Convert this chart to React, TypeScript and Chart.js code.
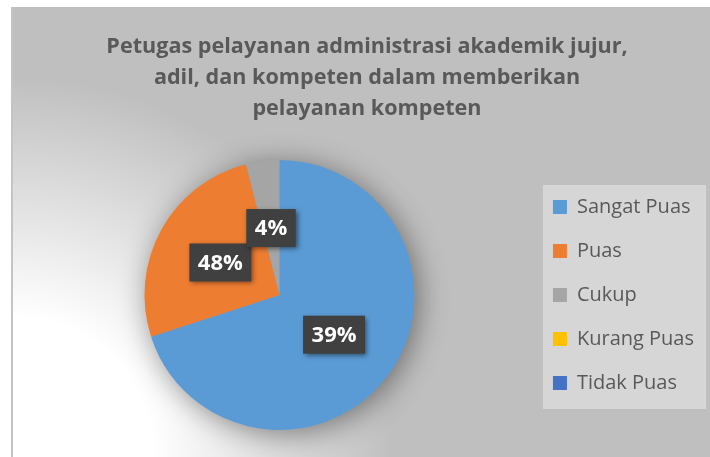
import React, { useEffect, useRef } from 'react';
import { Chart, registerables } from 'chart.js';

Chart.register(...registerables);

// ---- data ----
const titleLines = [
  'Petugas pelayanan administrasi akademik jujur,',
  'adil, dan kompeten dalam memberikan',
  'pelayanan kompeten',
];
const categories = ['Sangat Puas', 'Puas', 'Cukup', 'Kurang Puas', 'Tidak Puas'];
const sliceValues = [70, 26, 4, 0, 0];
const sliceLabels = ['39%', '48%', '4%', '', ''];

// ---- styles ----
const sliceColors = ['#5b9bd5', '#ed7d31', '#a5a5a5', '#ffc000', '#4472c4'];
const FONT = "'Open Sans', 'Noto Sans', sans-serif";

const legendBgPlugin = {
  id: 'legendBg',
  beforeDraw(chart: any) {
    const lg = chart.legend;
    if (!lg || !lg.legendHitBoxes || !lg.legendHitBoxes.length) return;
    const hb = lg.legendHitBoxes;
    const first = hb[0];
    const last = hb[hb.length - 1];
    const ctx = chart.ctx;
    const left = first.left - 10;
    const top = first.top - 12;
    const right = lg.right + 2;
    const bottom = last.top + last.height + 16;
    ctx.save();
    ctx.fillStyle = '#d6d6d6';
    ctx.fillRect(left, top, right - left, bottom - top);
    ctx.restore();
  },
};

const pieShadowPlugin = {
  id: 'pieShadow',
  beforeDatasetsDraw(chart: any) {
    const arc = chart.getDatasetMeta(0).data[0];
    if (!arc) return;
    const { x, y, outerRadius } = arc;
    const ctx = chart.ctx;
    ctx.save();
    ctx.shadowColor = 'rgba(0,0,0,0.45)';
    ctx.shadowBlur = 30;
    ctx.shadowOffsetX = 4;
    ctx.shadowOffsetY = 4;
    ctx.beginPath();
    ctx.arc(x, y, outerRadius - 1, 0, Math.PI * 2);
    ctx.fillStyle = '#999999';
    ctx.fill();
    ctx.restore();
  },
};

const dataLabelPlugin = {
  id: 'boxLabels',
  afterDatasetsDraw(chart: any) {
    const meta = chart.getDatasetMeta(0);
    const ctx = chart.ctx;
    ctx.save();
    ctx.font = `bold 22px ${FONT}`;
    ctx.textAlign = 'center';
    ctx.textBaseline = 'middle';
    meta.data.forEach((arc: any, i: number) => {
      const txt = sliceLabels[i];
      if (!txt || !sliceValues[i]) return;
      const p = arc.getCenterPoint();
      const w = ctx.measureText(txt).width + 17;
      const h = 38;
      ctx.save();
      ctx.shadowColor = 'rgba(0,0,0,0.5)';
      ctx.shadowBlur = 5;
      ctx.shadowOffsetX = 2;
      ctx.shadowOffsetY = 2;
      ctx.fillStyle = '#404040';
      ctx.fillRect(p.x - w / 2, p.y - h / 2, w, h);
      ctx.restore();
      ctx.fillStyle = '#ffffff';
      ctx.fillText(txt, p.x, p.y + 1);
    });
    ctx.restore();
  },
};

export default function App() {
  const canvasRef = useRef<HTMLCanvasElement | null>(null);

  useEffect(() => {
    let chart: Chart | null = null;
    let cancelled = false;
    const build = () => {
      if (cancelled || !canvasRef.current) return;
      chart = new Chart(canvasRef.current, {
        type: 'pie',
        data: {
          labels: categories,
          datasets: [
            {
              data: sliceValues,
              backgroundColor: sliceColors,
              borderWidth: 0,
              radius: 135,
            },
          ],
        },
        options: {
          responsive: false,
          animation: false,
          events: [],
          layout: { padding: { left: 30, right: 6, top: 0, bottom: 0 } },
          plugins: {
            tooltip: { enabled: false },
            title: {
              display: true,
              text: titleLines,
              color: '#595959',
              font: { family: FONT, size: 21.6, weight: 'bold', lineHeight: 31 / 21.6 },
              padding: { top: 31, bottom: 9 },
            },
            legend: {
              display: true,
              position: 'right',
              fullSize: false,
              labels: {
                boxWidth: 14,
                boxHeight: 14,
                padding: 24,
                color: '#595959',
                font: { family: FONT, size: 20 },
              },
            },
          },
        },
        plugins: [legendBgPlugin, pieShadowPlugin, dataLabelPlugin],
      } as any);
    };
    const fonts = (document as any).fonts;
    if (fonts && fonts.load) {
      Promise.all([
        fonts.load(`bold 21px 'Open Sans'`),
        fonts.load(`20px 'Open Sans'`),
      ]).then(build, build);
    } else {
      build();
    }
    return () => {
      cancelled = true;
      if (chart) chart.destroy();
    };
  }, []);

  return (
    <div style={{ position: 'absolute', left: 0, top: 0, width: 710, height: 457, overflow: 'hidden', background: '#ffffff' }}>
      <div
        style={{
          position: 'absolute',
          left: 11,
          top: 7,
          width: 699,
          height: 450,
          boxSizing: 'border-box',
          borderLeft: '2px solid #c4c4c4',
          background: 'radial-gradient(circle at 0% 100%, #ffffff 0px, #ffffff 140px, #bfbfbf 380px)',
        }}
      />
      <canvas ref={canvasRef} width={710} height={457} style={{ position: 'absolute', left: 0, top: 0, width: 710, height: 457 }} />
    </div>
  );
}
